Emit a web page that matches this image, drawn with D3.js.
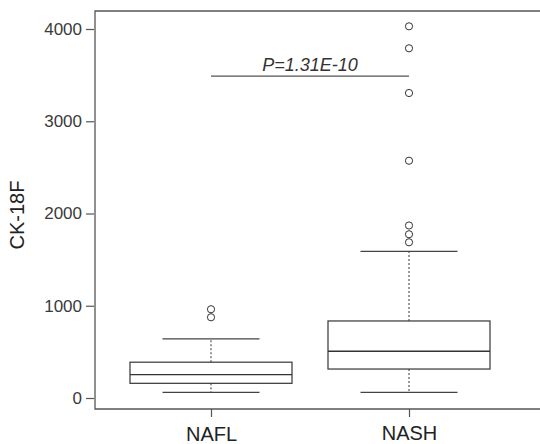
<!DOCTYPE html>
<html>
<head>
<meta charset="utf-8">
<script src="https://cdn.jsdelivr.net/npm/d3@7"></script>
<style>
  body { margin: 0; background: #fff; }
  svg { display: block; font-family: "Liberation Sans", Arial, sans-serif; }
</style>
</head>
<body>
<div id="chart"></div>
<script>
// groups and five-number summaries
const groups = ['NAFL', 'NASH'];
const lowerWhisker = [62, 62];
const q1 = [159, 314];
const median = [253, 506];
const q3 = [388, 835];
const upperWhisker = [640, 1590];
const outliersNAFL = [875, 962];
const outliersNASH = [1688, 1775, 1870, 2572, 3306, 3791, 4029];
const yTicks = [0, 1000, 2000, 3000, 4000];
const pLabel = 'P=1.31E-10';
const pLevel = 3490;

const width = 540, height = 444;

const svg = d3.select('#chart').append('svg')
  .attr('width', width)
  .attr('height', height);

// scales
const yScale = d3.scaleLinear().domain([0, 4000]).range([398, 29]);
const xScale = d3.scalePoint().domain(groups).range([211, 409]);

const frameLeft = 95, frameTop = 11, frameBottom = 409;
const boxW = 162, capW = 97;

// frame (right edge runs off the picture)
svg.append('path')
  .attr('d', `M${width + 5},${frameTop}H${frameLeft}V${frameBottom}H${width + 5}`)
  .attr('fill', 'none')
  .attr('stroke', '#555')
  .attr('stroke-width', 1.3);

// y axis
const yAxis = d3.axisLeft(yScale).tickValues(yTicks).tickFormat(d3.format('d'))
  .tickSize(8).tickPadding(4);
const gy = svg.append('g')
  .attr('transform', 'translate(' + (frameLeft - 1) + ',0)')
  .call(yAxis);
gy.select('.domain').remove();
gy.selectAll('line').attr('stroke', '#555').attr('stroke-width', 1.2);
gy.selectAll('text')
  .attr('fill', '#3a3a3a')
  .style('font-size', '17px');

// x axis
const xAxis = d3.axisBottom(xScale).tickSize(8).tickPadding(10);
const gx = svg.append('g')
  .attr('transform', 'translate(0,' + frameBottom + ')')
  .call(xAxis);
gx.select('.domain').remove();
gx.selectAll('line').attr('stroke', '#555').attr('stroke-width', 1.2);
gx.selectAll('text')
  .attr('fill', '#222')
  .style('font-size', '20px')
  .attr('dy', (d, i) => i === 0 ? '0.72em' : '0.66em');

// y title
svg.append('text')
  .attr('transform', 'translate(24,215) rotate(-90)')
  .attr('text-anchor', 'middle')
  .attr('fill', '#222')
  .style('font-size', '20px')
  .text('CK-18F');

const stats = groups.map((g, i) => ({
  g: g, lo: lowerWhisker[i], q1: q1[i], med: median[i], q3: q3[i], hi: upperWhisker[i]
}));

const boxes = svg.selectAll('.box').data(stats).enter().append('g').attr('class', 'box');

// dotted whiskers
boxes.append('line')
  .attr('x1', d => xScale(d.g)).attr('x2', d => xScale(d.g))
  .attr('y1', d => yScale(d.q3)).attr('y2', d => yScale(d.hi))
  .attr('stroke', '#333').attr('stroke-dasharray', '2,2');
boxes.append('line')
  .attr('x1', d => xScale(d.g)).attr('x2', d => xScale(d.g))
  .attr('y1', d => yScale(d.q1)).attr('y2', d => yScale(d.lo))
  .attr('stroke', '#333').attr('stroke-dasharray', '2,2');

// caps
['lo', 'hi'].forEach(k => {
  boxes.append('line')
    .attr('x1', d => xScale(d.g) - capW / 2).attr('x2', d => xScale(d.g) + capW / 2)
    .attr('y1', d => yScale(d[k])).attr('y2', d => yScale(d[k]))
    .attr('stroke', '#444').attr('stroke-width', 1.3);
});

// box
boxes.append('rect')
  .attr('x', d => xScale(d.g) - boxW / 2)
  .attr('y', d => yScale(d.q3))
  .attr('width', boxW)
  .attr('height', d => yScale(d.q1) - yScale(d.q3))
  .attr('fill', 'none')
  .attr('stroke', '#444')
  .attr('stroke-width', 1.3);

// median
boxes.append('line')
  .attr('x1', d => xScale(d.g) - boxW / 2).attr('x2', d => xScale(d.g) + boxW / 2)
  .attr('y1', d => yScale(d.med)).attr('y2', d => yScale(d.med))
  .attr('stroke', '#333').attr('stroke-width', 1.4);

// outliers
const outliers = outliersNAFL.map(v => ({ g: 'NAFL', v: v }))
  .concat(outliersNASH.map(v => ({ g: 'NASH', v: v })));
svg.selectAll('.out').data(outliers).enter().append('circle')
  .attr('class', 'out')
  .attr('cx', d => xScale(d.g))
  .attr('cy', d => yScale(d.v))
  .attr('r', 3.6)
  .attr('fill', 'none')
  .attr('stroke', '#333')
  .attr('stroke-width', 1);

// significance bracket
svg.append('line')
  .attr('x1', xScale('NAFL')).attr('x2', xScale('NASH'))
  .attr('y1', yScale(pLevel)).attr('y2', yScale(pLevel))
  .attr('stroke', '#555').attr('stroke-width', 1.3);
svg.append('text')
  .attr('x', (xScale('NAFL') + xScale('NASH')) / 2)
  .attr('y', yScale(pLevel) - 5)
  .attr('text-anchor', 'middle')
  .attr('fill', '#333')
  .style('font-size', '18px')
  .style('font-style', 'italic')
  .text(pLabel);
</script>
</body>
</html>
